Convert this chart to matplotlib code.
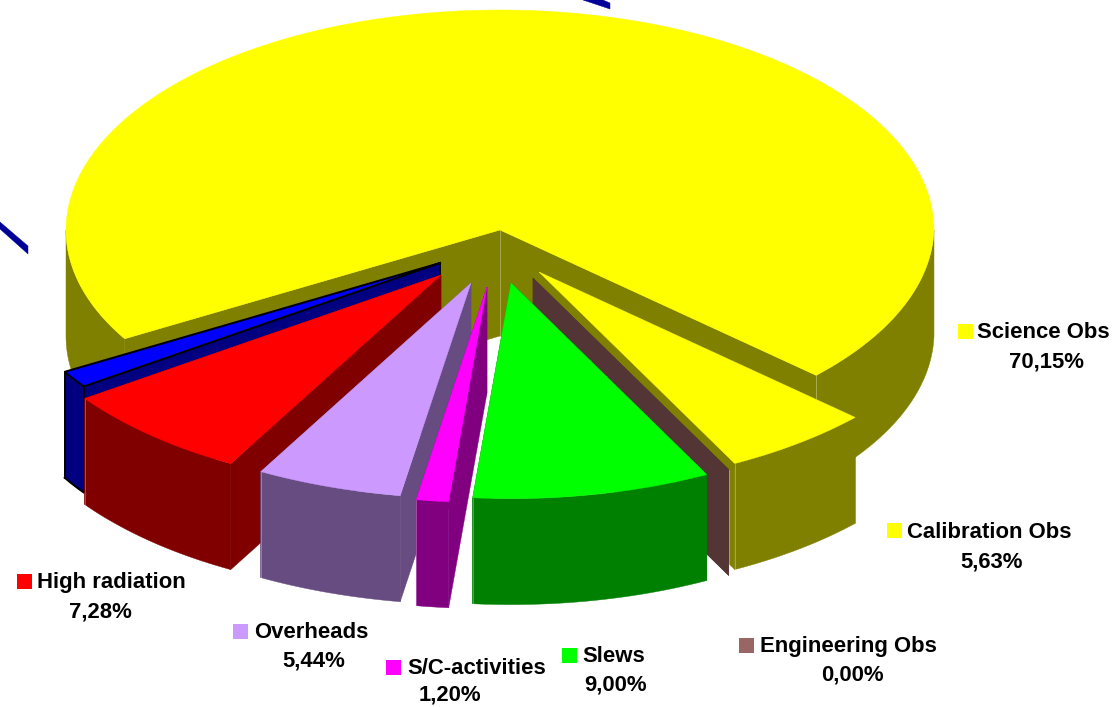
import numpy as np
import matplotlib
matplotlib.use("Agg")
import matplotlib.pyplot as plt
from matplotlib.patches import Polygon, Rectangle

plt.rcParams['font.family'] = ['Liberation Sans', 'DejaVu Sans']

# ---- data (clockwise from the first slice's far edge) ----
names = ['Science Obs', 'Calibration Obs', 'Engineering Obs', 'Slews',
         'S/C-activities', 'Overheads', 'High radiation', '']
values = [70.15, 5.63, 0.00, 9.00, 1.20, 5.44, 7.28, 1.30]
top_colors = ['#FFFF00', '#FFFF00', '#996666', '#00FF00',
              '#FF00FF', '#CC99FF', '#FF0000', '#0000FF']
side_colors = ['#808000', '#808000', '#533535', '#008000',
               '#800080', '#664C80', '#800000', '#000080']

# ---- style: geometry in pixels ----
CX, CY, RX, RY, DEPTH = 500, 230, 434, 220, 106
START = -42.4
offsets = [(0, 0), (39, 42), (33, 48), (11, 53), (-13, 57), (-29, 53), (-59, 45), (-60, 33)]
order = [0, 1, 2, 7, 6, 5, 4, 3]
label_sq = [(958, 324), (887, 523), (739, 638), (562, 648), (386, 660), (233, 624), (17, 574), None]
label_txt = [(977, 332.5), (907, 532.5), (760, 646.5), (582, 656.5), (407, 668.5), (254, 632.5), (37, 582.5), None]
pct_pos = [(1046, 362), (992, 562), (852, 675), (616, 685), (450, 695), (314, 661), (100, 612), None]
FS = 15.9

fig = plt.figure(figsize=(11.18, 7.07), dpi=100)
ax = fig.add_axes([0, 0, 1, 1])
ax.set_xlim(0, 1118)
ax.set_ylim(707, 0)
ax.axis('off')


def pt(t, ox, oy):
    r = np.radians(t)
    c, s = np.cos(r), np.sin(r)
    low = np.clip(-s, 0, 1)
    fx = 1 - 0.02 * low * (c > 0)
    fy = 1 - 0.02 * np.minimum(1, 1.5 * low)
    return ox + RX * fx * c, oy - RY * fy * s


def arc(t1, t2, ox, oy):
    ts = np.linspace(t1, t2, max(2, int(abs(t2 - t1) * 3)))
    return np.column_stack(pt(ts, ox, oy))


# angles from the values
hi = START
angles = [(START, START + values[0] * 3.6)]
for v in values[1:]:
    angles.append((hi - v * 3.6, hi))
    hi -= v * 3.6


def poly(xy, c, z=2):
    ax.add_patch(Polygon(xy, closed=True, fc=c, ec=c, lw=0.3, zorder=z))


z = 2
for i in order:
    t1, t2 = angles[i]
    ox, oy = CX + offsets[i][0], CY + offsets[i][1]
    top, side = top_colors[i], side_colors[i]
    apex = np.array([ox, oy])
    down = np.array([0, DEPTH])
    # outer side: only the part turned towards the viewer (180..360 degrees)
    for k in (-1, 0, 1):
        a = max(t1, 180 + 360 * k)
        b = min(t2, 360 + 360 * k)
        if b > a:
            p = arc(a, b, ox, oy)
            poly(np.vstack([p, p[::-1] + down]), side, z)
    # radial walls, far one first
    for t in sorted((t1, t2), key=lambda q: np.sin(np.radians(q)), reverse=True):
        e = np.array(pt(t, ox, oy))
        poly([apex, e, e + down, apex + down], side, z)
    if i != 7:
        e = np.array(pt(t1, ox, oy))
        ax.plot([e[0], e[0]], [e[1], e[1] + DEPTH], color='white', alpha=0.35, lw=0.6, zorder=z)
    if i == 0:
        ax.plot([ox, ox], [oy, oy + DEPTH], color='white', alpha=0.35, lw=0.6, zorder=z)
    # top face
    if t2 > t1:
        poly(np.vstack([apex, arc(t1, t2, ox, oy)]), top, z)
    # black outline on the unlabelled slice only
    if i == 7:
        e1 = np.array(pt(t1, ox, oy))
        e2 = np.array(pt(t2, ox, oy))
        p = arc(t1, t2, ox, oy)
        outline = dict(color='black', lw=1.4, zorder=z, solid_joinstyle='miter')
        ax.plot(*np.vstack([apex, p, apex]).T, **outline)
        ax.plot([e1[0], e1[0]], [e1[1], e1[1] + DEPTH], **outline)
        ax.plot([e2[0], e2[0]], [e2[1], e2[1] + DEPTH], **outline)
        ax.plot(*(p + down).T, **outline)
        ax.plot([ox, ox], [oy, oy + 48], **outline)
    z += 1

# cut-off leader strokes of the unlabelled slice
poly([(0, 222), (28, 246), (28, 254), (0, 229)], '#000099', z)
poly([(583, 0), (603, 0), (610, 3), (610, 9)], '#000099', z)

# labels
for n, v, c, sq, tx, pc in zip(names, values, top_colors, label_sq, label_txt, pct_pos):
    if not n:
        continue
    ax.add_patch(Rectangle(sq, 15, 15, fc=c, ec='none', zorder=z + 1))
    ax.text(tx[0], tx[1], n, fontsize=FS, fontweight='bold', va='center', ha='left', zorder=z + 1)
    ax.text(pc[0], pc[1], f'{v:.2f}%'.replace('.', ','), fontsize=FS, fontweight='bold',
            va='center', ha='center', zorder=z + 1)

fig.savefig('out.png', dpi=100, facecolor='white')
